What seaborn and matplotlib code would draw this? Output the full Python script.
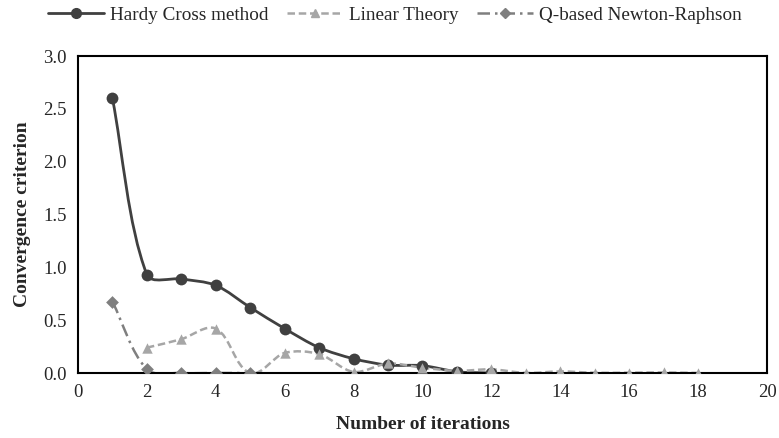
import numpy as np
import matplotlib
matplotlib.use("Agg")
import matplotlib.pyplot as plt
import seaborn as sns
from matplotlib.path import Path
from matplotlib.patches import PathPatch
from matplotlib.lines import Line2D

# data
hc_iter = [1, 2, 3, 4, 5, 6, 7, 8, 9, 10, 11, 12]
hc_vals = [2.60, 0.93, 0.89, 0.83, 0.62, 0.42, 0.24, 0.135, 0.075, 0.07, 0.012, 0.0]

lt_iter = [2, 3, 4, 5, 6, 7, 8, 9, 10, 11, 12, 13, 14, 15, 16, 17, 18]
lt_vals = [0.24, 0.32, 0.42, 0.0, 0.19, 0.18, 0.01, 0.09, 0.05, 0.02, 0.035,
           0.0, 0.015, 0.002, 0.003, 0.005, 0.0]

nr_iter = [1, 2, 3, 4, 5]
nr_vals = [0.675, 0.035, 0.0, 0.0, 0.0]

x_ticks = [0, 2, 4, 6, 8, 10, 12, 14, 16, 18, 20]
y_ticks = [0.0, 0.5, 1.0, 1.5, 2.0, 2.5, 3.0]


def smooth_path(xs, ys, sx, sy, f=0.3):
    # Excel-like smoothed line, built in screen-like units so the
    # control arms follow the length of each segment
    pts = np.column_stack([np.array(xs) * sx, np.array(ys) * sy]).astype(float)
    n = len(pts)

    def unit(v):
        d = np.hypot(*v)
        return v / d if d > 0 else v

    verts = [pts[0]]
    codes = [Path.MOVETO]
    for i in range(n - 1):
        p0 = pts[i - 1] if i > 0 else pts[i]
        p1 = pts[i]
        p2 = pts[i + 1]
        p3 = pts[i + 2] if i + 2 < n else pts[i + 1]
        seg = np.hypot(*(p2 - p1))
        c1 = p1 + unit(p2 - p0) * seg * f
        c2 = p2 - unit(p3 - p1) * seg * f
        verts += [c1, c2, p2]
        codes += [Path.CURVE4] * 3
    verts = np.array(verts) / np.array([sx, sy])
    return Path(verts, codes)


sns.set_style("white")
plt.rcParams["font.family"] = ["Liberation Serif", "DejaVu Serif"]

fig, ax = plt.subplots(figsize=(7.79, 4.38), dpi=100)
fig.subplots_adjust(left=0.1001, right=0.9846, bottom=0.1484, top=0.872)

ax.set_xlim(0, 20)
ax.set_ylim(0, 3.0)
bbox = ax.get_position()
sx = bbox.width * 779 / 20
sy = bbox.height * 438 / 3.0

series = [
    ("Hardy Cross method", hc_iter, hc_vals, "#404040", "-", "o", 8.5, 2.0),
    ("Linear Theory", lt_iter, lt_vals, "#a6a6a6", (0, (3, 1.5)), "^", 7.5, 1.8),
    ("Q-based Newton-Raphson", nr_iter, nr_vals, "#7f7f7f", (0, (5, 2, 1, 2)), "D", 6.5, 1.8),
]

handles = []
for label, xs, ys, color, ls, marker, ms, lw in series:
    patch = PathPatch(smooth_path(xs, ys, sx, sy), facecolor="none",
                      edgecolor=color, linestyle=ls, linewidth=lw, zorder=2)
    ax.add_patch(patch)
    sns.scatterplot(x=xs, y=ys, ax=ax, marker=marker, color=color,
                    s=ms ** 2, edgecolor=color, linewidth=0, zorder=3)
    handles.append(Line2D([0], [0], color=color, linestyle=ls, linewidth=lw,
                          marker=marker, markersize=ms - 1.5, label=label))

ax.set_xlim(0, 20)
ax.set_ylim(0, 3.0)
ax.set_xticks(x_ticks)
ax.set_yticks(y_ticks)
ax.set_yticklabels([f"{v:.1f}" for v in y_ticks])
ax.tick_params(axis="both", labelsize=13.5, length=0, pad=8)

for side in ["top", "bottom", "left", "right"]:
    ax.spines[side].set_visible(True)
    ax.spines[side].set_color("black")
    ax.spines[side].set_linewidth(1.5)

ax.set_xlabel("Number of iterations", fontsize=14, fontweight="bold", labelpad=11)
ax.set_ylabel("Convergence criterion", fontsize=14, fontweight="bold", labelpad=9)

fig.legend(handles=handles, loc="upper center", bbox_to_anchor=(0.507, 1.025),
           ncol=3, frameon=False, fontsize=13.8, handlelength=2.9,
           columnspacing=1.0, handletextpad=0.3)

fig.savefig("out.png", dpi=100)
